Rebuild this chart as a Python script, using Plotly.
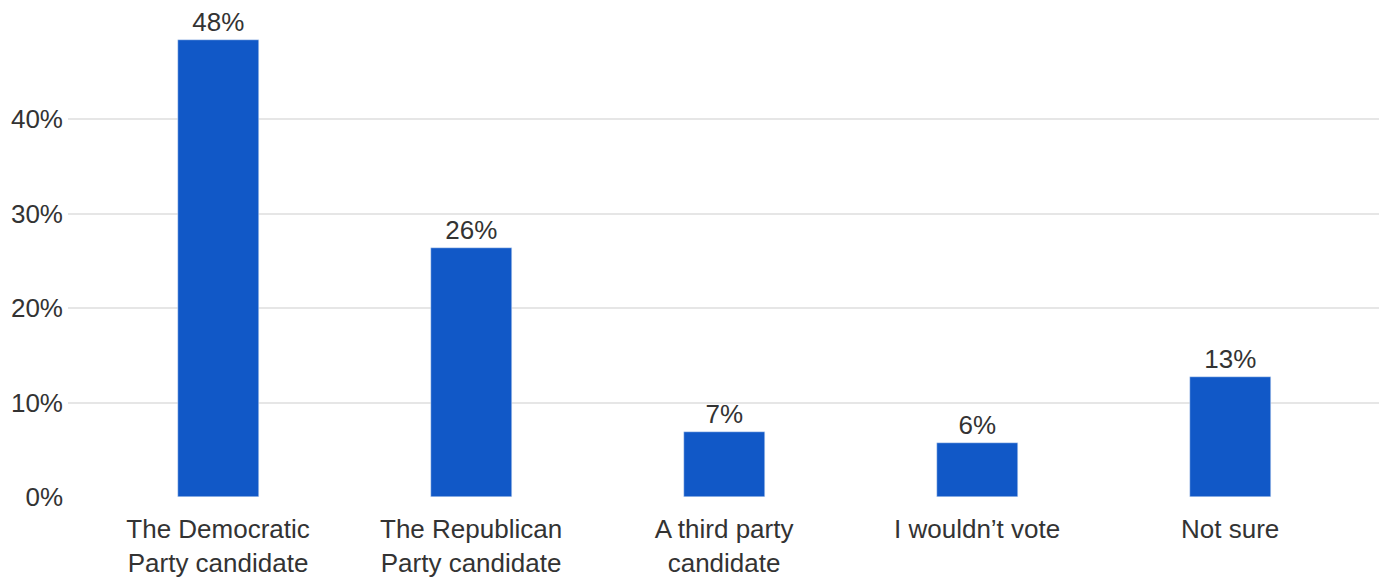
import plotly.graph_objects as go

categories = ["The Democratic<br>Party candidate", "The Republican<br>Party candidate",
              "A third party<br>candidate", "I wouldn’t vote", "Not sure"]
values = [48.4, 26.4, 6.9, 5.7, 12.7]
tick_vals = [0, 10, 20, 30, 40]
tick_text = ["0%", "10%", "20%", "30%", "40%"]

fig = go.Figure(go.Bar(
    x=list(range(len(categories))), y=values,
    marker_color="#1158C7", width=0.32,
    texttemplate="%{y:.0f}%", textposition="outside",
    textfont=dict(size=26, color="#333333"),
    cliponaxis=False,
))
fig.update_layout(
    width=1387, height=577,
    margin=dict(l=60, r=8, t=0, b=88, autoexpand=False),
    paper_bgcolor="white", plot_bgcolor="white",
    font=dict(family="Liberation Sans, Arial, sans-serif", size=26, color="#333333"),
    showlegend=False, bargap=0,
    xaxis=dict(range=[-0.593, 4.62], tickvals=list(range(len(categories))),
               ticktext=categories, showgrid=False, zeroline=False, showline=False,
               ticks="", automargin=False, ticklabelstandoff=14,
               tickfont=dict(size=26, color="#333333")),
    yaxis=dict(range=[0, 51.75], tickvals=tick_vals, ticktext=tick_text,
               showgrid=True, gridcolor="#e6e6e6", gridwidth=2, zeroline=False,
               ticks="", automargin=False, ticklabelstandoff=4,
               tickfont=dict(size=26, color="#333333")),
)
fig.write_html("out.html")
